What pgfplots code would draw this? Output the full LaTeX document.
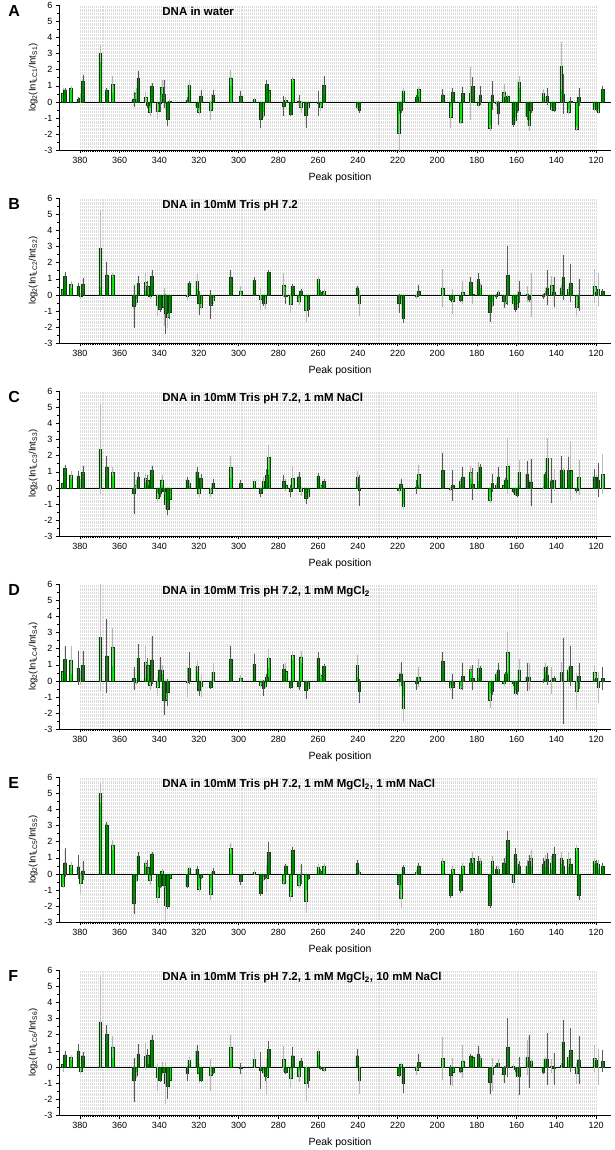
\documentclass[border=0pt]{standalone}
\usepackage{pgfplots}
\pgfplotsset{compat=1.18}
\usepackage{pgfplotstable}
\usepackage{fontspec}
\setmainfont{Liberation Sans}
\definecolor{lgreen}{RGB}{20,225,20}
\definecolor{dgreen}{RGB}{0,135,0}
\definecolor{edge}{RGB}{0,70,0}

\pgfplotstableread{
x y e
388.5 0.55 0.25
387.5 0.75 0.05
384.5 0.88 0.03
380.8 0.2 0.05
379.7 0.25 0.2
378.5 1.3 0.3
369.8 3.0 0.45
366.6 0.75 0.05
363.5 1.1 0.45
352.8 0.15 0.4
351.8 0.55 0.25
350.6 1.45 0.4
347.0 0.3 0.25
346.0 -0.2 0.1
344.7 -0.6 0.15
343.7 1.0 0.1
340.9 -0.55 0.4
339.7 -0.1 0.45
338.7 0.9 0.4
337.7 0.5 0.8
336.8 -0.3 0.1
335.8 -1.05 0.35
334.8 0.05 0.03
325.9 0.1 0.1
325.0 1.05 0.2
321.0 -0.3 0.1
320.0 -0.6 0.1
319.0 0.35 0.3
314.1 -0.5 0.5
312.9 0.45 0.2
304.0 1.5 0.4
299.0 0.35 0.25
292.2 0.15 0.03
288.9 -1.05 0.45
287.7 -0.8 0.1
286.0 1.1 0.15
285.0 0.75 0.05
277.3 -0.25 0.55
276.3 0.1 0.1
273.9 -0.75 0.05
272.9 1.4 0.05
269.7 0.05 0.3
268.7 -0.3 0.3
266.2 -0.8 0.7
265.0 -0.3 0.1
260.0 -0.1 0.7
258.8 -0.35 0.1
257.1 1.05 0.5
240.3 -0.3 0.05
239.3 -0.5 0.1
219.3 -1.9 1.1
218.3 -0.5 0.1
217.1 0.7 0.05
210.4 0.3 0.05
209.4 0.8 0.05
197.3 0.45 0.25
193.3 -0.95 0.55
192.3 0.6 0.2
188.2 -1.25 0.05
187.2 0.55 0.3
183.2 0.55 1.55
182.2 0.95 0.5
179.4 -0.2 0.05
178.4 0.4 0.5
173.5 -1.6 0.1
172.3 0.4 0.8
170.3 -0.1 0.05
169.3 -0.7 0.65
166.5 0.6 0.4
165.5 0.3 0.05
164.5 0.35 0.05
161.8 -1.35 0.1
160.8 -1.1 0.1
159.8 -0.5 0.1
158.8 1.25 0.3
154.8 -0.9 0.1
153.8 -1.45 0.25
152.8 -0.5 0.1
146.7 0.55 0.15
144.7 0.35 0.45
142.5 -0.45 0.05
141.3 -0.5 0.05
137.6 2.2 1.4
136.6 0.5 1.15
133.9 -0.6 0.05
132.9 0.05 0.15
129.9 -1.65 0.05
128.7 0.3 0.45
120.9 -0.45 0.05
119.9 -0.45 0.05
118.9 -0.6 0.05
116.8 0.8 0.1
}\tA

\pgfplotstableread{
x y e
388.5 0.35 0.35
387.5 1.15 0.2
384.5 0.65 0.1
380.8 0.55 0.1
379.7 -0.05 0.1
378.5 0.65 0.3
369.8 2.9 2.3
366.6 1.25 0.7
363.5 1.25 0.03
352.8 -0.7 1.25
351.8 -0.45 0.1
350.6 0.75 0.35
347.0 0.8 0.45
346.0 0.55 0.2
344.7 -0.1 0.05
343.7 1.15 0.3
340.9 -0.6 0.6
339.7 -0.85 0.1
337.7 -0.75 1.1
336.8 -1.15 1.15
335.8 -1.4 0.55
334.8 -1.05 0.35
325.9 -0.1 0.1
325.0 0.75 0.03
321.0 0.85 0.4
320.0 -0.5 0.65
319.0 -0.75 0.1
314.1 -0.6 0.8
312.9 -0.35 0.1
304.0 1.1 0.35
299.0 0.25 0.25
292.2 0.9 0.15
288.9 -0.25 0.6
287.7 -0.5 0.1
286.7 -0.5 0.25
285.0 1.4 0.05
277.3 0.6 0.65
276.3 -0.05 0.45
273.9 -0.55 0.5
272.9 0.55 0.05
269.7 -0.4 0.15
268.7 0.25 0.05
266.2 -0.95 0.65
265.0 -0.9 0.35
260.0 0.95 0.15
258.8 0.15 0.05
257.1 0.25 0.05
240.3 0.45 0.05
239.3 -0.5 0.7
219.3 -0.5 0.5
218.3 -0.45 0.1
217.1 -1.45 0.2
210.4 -0.1 0.05
209.4 0.25 0.3
197.3 0.45 1.1
193.3 -0.25 0.05
192.3 -0.4 0.7
188.2 -0.3 0.05
187.2 0.15 0.6
183.2 0.8 0.2
182.2 0.05 0.5
179.4 0.95 0.3
178.4 0.6 0.05
173.5 -1.05 0.55
172.3 -0.6 0.05
170.3 -0.1 0.05
169.3 0.15 0.05
166.5 -0.4 0.3
165.5 -0.5 0.05
164.5 1.2 1.75
161.8 -0.5 0.05
160.8 -0.85 0.1
159.8 -0.75 0.1
158.8 0.2 0.6
154.8 0.05 0.4
153.8 -0.25 0.1
152.8 0.0 1.3
146.7 -0.1 0.05
145.7 0.1 0.05
144.7 0.45 1.0
142.5 0.6 0.5
141.3 0.2 0.85
137.6 0.45 0.1
136.6 1.1 1.3
133.9 0.35 0.05
132.9 0.75 1.1
129.9 -0.75 0.55
128.7 0.0 0.9
120.9 0.55 0.95
119.9 0.2 0.05
118.9 0.35 0.95
116.8 0.25 0.05
}\tB

\pgfplotstableread{
x y e
388.5 0.3 0.2
387.5 1.2 0.15
384.5 0.8 0.15
380.8 0.75 0.2
379.7 0.3 0.2
378.5 1.0 0.3
369.8 2.4 2.7
366.6 1.3 0.6
363.5 1.0 0.2
352.8 -0.3 1.2
351.8 0.2 0.2
350.6 0.7 0.2
347.0 0.6 0.2
346.0 0.5 0.2
344.7 0.2 0.1
343.7 1.1 0.2
340.9 -0.6 0.2
339.7 -0.3 0.2
338.7 0.5 0.2
337.7 -0.2 0.1
336.8 -1.0 0.2
335.8 -1.3 0.3
334.8 -0.7 0.2
325.9 0.5 0.1
325.0 0.3 0.1
321.0 1.0 0.2
320.0 -0.3 0.2
319.0 0.6 0.2
314.1 -0.3 0.2
312.9 0.3 0.2
304.0 1.3 0.6
299.0 0.3 0.1
292.2 0.4 0.1
288.9 -0.3 0.2
287.7 0.4 0.2
286.0 0.8 0.3
285.0 1.9 0.7
277.3 0.4 0.3
276.3 0.2 0.3
273.9 -0.2 0.3
272.9 0.6 0.7
269.7 0.7 0.2
268.7 -0.2 0.2
266.2 -0.65 0.25
265.0 -0.5 0.1
260.0 0.75 0.1
258.8 0.2 0.05
257.1 0.4 0.1
240.3 0.65 0.3
239.3 -0.15 0.85
219.3 -0.15 0.05
218.3 0.25 0.25
217.1 -1.15 0.05
210.4 0.05 0.35
209.4 0.85 0.5
197.3 1.1 1.0
193.3 -0.05 0.05
192.3 0.15 0.85
188.2 0.4 0.05
187.2 0.65 0.55
183.2 0.95 0.3
182.2 0.25 0.9
179.4 1.0 0.5
178.4 1.3 0.1
173.5 -0.75 0.1
172.3 0.3 0.45
170.3 0.15 0.05
169.3 0.7 0.5
166.5 0.2 0.05
165.5 0.5 0.05
164.5 1.35 1.65
161.8 -0.2 0.05
160.8 -0.35 0.05
159.8 -0.45 0.05
158.8 0.95 0.7
154.8 0.85 0.75
153.8 0.35 0.05
152.8 0.35 1.35
146.7 0.0 0.05
145.7 0.85 0.05
144.7 1.85 1.15
142.5 0.45 1.3
141.3 0.5 0.6
137.6 1.1 0.8
136.6 1.1 0.05
133.9 1.1 0.75
132.9 1.1 1.75
129.9 -0.15 0.05
128.7 0.65 1.0
120.9 0.7 0.4
119.9 0.65 0.05
118.9 0.5 0.95
116.8 0.85 1.15
}\tC

\pgfplotstableread{
x y e
388.5 0.6 0.5
387.5 1.35 0.75
384.5 1.3 0.75
380.8 0.8 0.95
379.7 0.2 0.35
378.5 1.0 0.8
369.8 2.7 3.25
366.6 1.55 2.2
363.5 2.1 1.1
352.8 0.15 0.6
351.8 -0.1 0.05
350.6 1.4 0.8
347.0 1.15 0.9
346.0 0.95 0.4
344.7 -0.25 0.2
343.7 1.3 1.4
340.9 -0.35 0.5
339.7 0.7 0.7
338.7 0.7 0.2
337.7 -1.2 0.8
336.8 -1.2 0.05
335.8 -0.7 0.75
325.9 -0.1 0.8
325.0 0.8 0.9
321.0 0.9 0.25
320.0 -0.55 0.3
319.0 -0.3 0.6
314.1 -0.35 0.05
312.9 0.55 0.5
304.0 1.35 0.75
299.0 0.15 0.15
292.2 1.05 0.55
288.9 -0.25 0.05
287.7 -0.45 0.4
286.7 -0.3 0.05
286.0 0.25 0.1
285.0 1.4 0.5
277.3 0.75 0.2
276.3 0.6 0.45
273.9 -0.35 0.05
272.9 1.6 0.2
269.7 -0.3 0.2
268.7 1.5 0.3
266.2 -0.55 0.45
265.0 -0.45 0.05
260.0 1.4 0.3
258.8 0.35 0.05
257.1 0.9 0.05
240.3 0.95 0.6
239.3 -0.6 0.65
219.3 0.1 0.4
218.3 0.45 0.65
217.1 -1.7 0.7
210.4 -0.15 0.3
209.4 0.25 0.55
197.3 1.2 0.5
193.3 -0.4 0.05
192.3 -0.35 0.7
188.2 -0.45 0.05
187.2 0.3 0.75
183.2 0.75 0.1
182.2 0.2 0.7
179.4 0.8 0.45
178.4 0.8 0.05
173.5 -1.2 0.4
172.3 -0.6 0.15
170.3 0.4 0.05
169.3 0.7 0.35
166.5 -0.15 0.1
165.5 0.45 0.05
164.5 1.8 1.15
161.8 -0.15 0.05
160.8 -0.75 0.1
159.8 -0.65 0.1
158.8 0.7 0.55
154.8 0.25 0.8
153.8 0.25 0.75
146.7 0.0 0.05
145.7 0.85 0.2
144.7 0.35 0.5
142.5 0.05 0.75
141.3 0.15 0.1
137.6 0.55 0.55
136.6 0.0 2.6
133.9 0.7 0.05
132.9 0.9 1.15
129.9 -0.65 1.05
128.7 0.3 0.7
120.9 0.55 0.35
119.9 0.15 0.05
118.9 -0.4 0.9
116.8 0.15 0.65
}\tD

\pgfplotstableread{
x y e
388.5 -0.75 0.05
387.5 0.7 0.8
384.5 0.55 0.1
380.8 0.45 0.65
379.7 -0.55 0.55
378.5 0.2 0.5
369.8 5.0 0.55
366.6 3.05 0.05
363.5 1.8 0.2
352.8 -1.8 0.6
351.8 -0.35 0.05
350.6 1.1 0.2
347.0 0.7 0.05
346.0 0.45 0.3
344.7 -0.4 0.2
343.7 1.25 0.05
340.9 -1.45 0.25
339.7 -0.75 0.05
338.7 0.15 0.05
337.7 -0.7 0.05
336.8 -1.9 0.9
335.8 -2.0 0.05
334.8 -0.25 0.05
325.9 -0.75 0.05
325.0 0.35 0.05
321.0 0.3 0.1
320.0 -0.95 0.1
319.0 -0.2 0.05
314.1 -1.25 0.3
312.9 0.15 0.15
304.0 1.6 0.25
299.0 -0.45 0.15
292.2 0.1 0.05
288.9 -1.2 0.05
287.7 -0.3 0.05
286.7 -0.2 0.05
286.0 -0.25 0.75
285.0 1.35 0.55
277.3 -0.55 0.05
276.3 0.5 0.05
273.9 -1.4 0.25
272.9 1.45 0.15
269.7 -0.7 0.1
268.7 0.0 0.55
266.2 -1.7 0.6
265.0 -0.25 0.05
260.0 0.45 0.1
258.8 0.2 0.05
257.1 0.5 0.1
240.3 0.65 0.1
239.3 0.1 0.05
219.3 -0.6 0.3
218.3 -1.5 0.5
217.1 0.4 0.1
210.4 0.1 0.05
209.4 0.5 0.1
197.3 0.8 0.1
193.3 -1.3 0.1
192.3 0.3 0.1
188.2 -1.0 0.1
187.2 0.5 0.1
183.2 0.7 0.2
182.2 1.0 0.3
179.4 0.8 0.2
178.4 0.8 0.1
173.5 -1.9 0.1
172.3 0.8 0.2
170.3 0.3 0.1
169.3 0.3 0.1
166.5 0.7 0.2
165.5 0.8 0.2
164.5 2.1 0.5
161.8 -0.5 0.3
160.8 1.2 0.3
159.8 0.6 0.3
158.8 0.5 0.2
154.8 0.5 0.3
153.8 0.8 0.3
152.8 1.0 0.4
146.7 0.6 0.3
145.7 0.8 0.3
144.7 0.9 0.3
142.5 0.7 0.3
141.3 1.2 0.4
137.6 1.0 0.3
136.6 0.5 0.3
133.9 0.9 0.4
132.9 0.6 0.3
129.9 1.6 0.1
128.7 -1.3 0.2
120.9 0.8 0.1
119.9 0.7 0.1
118.9 0.6 0.2
116.8 0.5 0.1
}\tE

\pgfplotstableread{
x y e
388.5 0.15 0.4
387.5 0.75 0.15
384.5 0.6 0.05
380.8 1.0 0.35
379.7 -0.25 0.1
378.5 0.7 0.15
369.8 2.8 2.7
366.6 2.05 0.45
363.5 1.25 0.6
352.8 -0.8 1.25
351.8 -0.5 0.1
350.6 0.8 0.55
347.0 0.65 0.75
346.0 0.75 0.25
344.7 0.15 0.05
343.7 1.65 0.25
340.9 -0.65 0.75
339.7 -0.8 0.05
338.7 -0.1 0.35
337.7 -0.3 0.05
336.8 -1.0 1.2
335.8 -1.2 0.7
334.8 -0.8 0.45
325.9 -0.4 0.4
325.0 0.4 0.15
321.0 1.0 0.3
320.0 -0.4 0.5
319.0 -0.8 0.05
314.1 -0.5 0.9
312.9 -0.3 0.05
304.0 1.2 0.7
299.0 -0.1 0.25
292.2 0.5 0.45
288.9 -0.2 1.05
287.7 -0.3 0.05
286.7 -0.55 0.2
286.0 -0.6 1.05
285.0 1.1 0.4
277.3 0.5 0.7
276.3 -0.3 0.05
273.9 -0.7 0.5
272.9 0.7 0.45
269.7 -0.55 0.3
268.7 0.35 0.1
266.2 -1.0 1.0
265.0 -0.8 0.4
260.0 0.95 0.15
258.8 -0.05 0.05
257.1 -0.2 0.05
240.3 0.7 0.3
239.3 -0.8 0.8
219.3 -0.5 0.05
218.3 0.2 0.05
217.1 -1.0 0.55
210.4 -0.2 0.2
209.4 0.3 0.4
197.3 0.55 1.25
193.3 -0.5 0.55
192.3 -0.3 0.8
188.2 -0.25 0.05
187.2 0.35 0.95
183.2 0.65 0.05
182.2 0.6 0.05
179.4 0.8 0.4
178.4 0.55 0.05
173.5 -0.95 0.65
172.3 -0.45 0.95
170.3 0.1 0.05
169.3 0.25 0.15
166.5 -0.45 0.45
165.5 0.0 0.05
164.5 1.2 1.75
161.8 0.05 0.05
160.8 -0.15 0.05
159.8 -0.55 0.05
158.8 -0.55 1.1
154.8 0.6 1.0
153.8 0.35 1.55
152.8 0.35 0.05
146.7 -0.3 0.05
145.7 0.5 0.05
144.7 0.5 1.5
142.5 0.05 0.35
141.3 -0.1 0.9
137.6 0.1 0.05
136.6 1.55 1.25
133.9 0.6 0.05
132.9 1.05 1.25
129.9 -0.4 0.55
128.7 0.45 1.4
120.9 0.55 0.75
119.9 0.4 0.05
118.9 0.0 1.05
116.8 0.35 0.6
}\tF

\pgfplotsset{
  panel/.style={
    width=552pt, height=145.5pt, scale only axis,
    anchor=north west, clip mode=individual,
    xmin=112.5, xmax=390.5, x dir=reverse,
    ymin=-3, ymax=6,
    xtick={120,140,...,380}, minor x tick num=19,
    ytick={-3,...,6}, minor y tick num=1,
    axis x line*=bottom, axis y line*=left,
    axis line style={black, line width=0.6pt},
    tick align=outside,
    major tick length=3pt, minor tick length=1.6pt,
    every tick/.style={black, line width=0.5pt},
    xmajorgrids, xminorgrids,
    major grid style={gray!28, densely dotted, line width=0.35pt},
    minor grid style={gray!28, densely dotted, line width=0.35pt},
    extra y ticks={0}, extra y tick labels={},
    extra y tick style={grid=major, major grid style={black, solid, line width=0.7pt}, major tick length=0pt},
    /pgf/number format/assume math mode=true,
    tick label style={font=\fontsize{9}{10}\selectfont},
    xlabel={Peak position},
    xlabel style={font=\fontsize{10.5}{12}\selectfont, at={(axis description cs:0.4457,-0.186)}, anchor=west},
    ylabel style={font=\fontsize{9.5}{11}\selectfont, at={(axis description cs:-0.047,0.5)}, anchor=center},
  },
  lightbar/.style={ybar, bar shift=0pt, bar width=1.35, fill=lgreen, draw=edge, line width=0.3pt,
    restrict expr to domain={mod(\coordindex,2)}{0:0.5},
    error bars/.cd, y dir=both, y explicit,
    error bar style={gray!55, line width=0.55pt},
    error mark options={gray!55, line width=0.55pt, mark size=1.4pt}},
  darkbar/.style={ybar, bar shift=0pt, bar width=1.35, fill=dgreen, draw=edge, line width=0.3pt,
    restrict expr to domain={mod(\coordindex,2)}{0.5:1.5},
    error bars/.cd, y dir=both, y explicit,
    error bar style={black!65, line width=0.55pt},
    error mark options={black!65, line width=0.55pt, mark size=1.4pt}},
}

\newcommand{\panel}[5]{%
\begin{axis}[panel, at={(0pt,#1)},
  ylabel={log\textsubscript{2}(Int\textsubscript{LC#5}/Int\textsubscript{S#5})}]
  \addplot[lightbar] table[x index=0, y index=1, y error index=2] {#2};
  \addplot[darkbar] table[x index=0, y index=1, y error index=2] {#2};
  \node[anchor=north west, inner sep=0pt, font=\bfseries\fontsize{16}{16}\selectfont] at (axis description cs:-0.092,1.0) {#3};
  \node[anchor=north west, inner sep=0pt, font=\bfseries\fontsize{11.5}{13}\selectfont] at (axis description cs:0.187,0.985) {#4};
\end{axis}}

\begin{document}
\begin{tikzpicture}
\useasboundingbox (-59pt,5pt) rectangle (556pt,-1145pt);
\panel{0pt}{\tA}{A}{DNA in water}{1}
\panel{-193pt}{\tB}{B}{DNA in 10mM Tris pH 7.2}{2}
\panel{-386pt}{\tC}{C}{DNA in 10mM Tris pH 7.2, 1 mM NaCl}{3}
\panel{-579pt}{\tD}{D}{DNA in 10mM Tris pH 7.2, 1 mM MgCl\textsubscript{2}}{4}
\panel{-772pt}{\tE}{E}{DNA in 10mM Tris pH 7.2, 1 mM MgCl\textsubscript{2}, 1 mM NaCl}{5}
\panel{-965pt}{\tF}{F}{DNA in 10mM Tris pH 7.2, 1 mM MgCl\textsubscript{2}, 10 mM NaCl}{6}
\end{tikzpicture}
\end{document}
